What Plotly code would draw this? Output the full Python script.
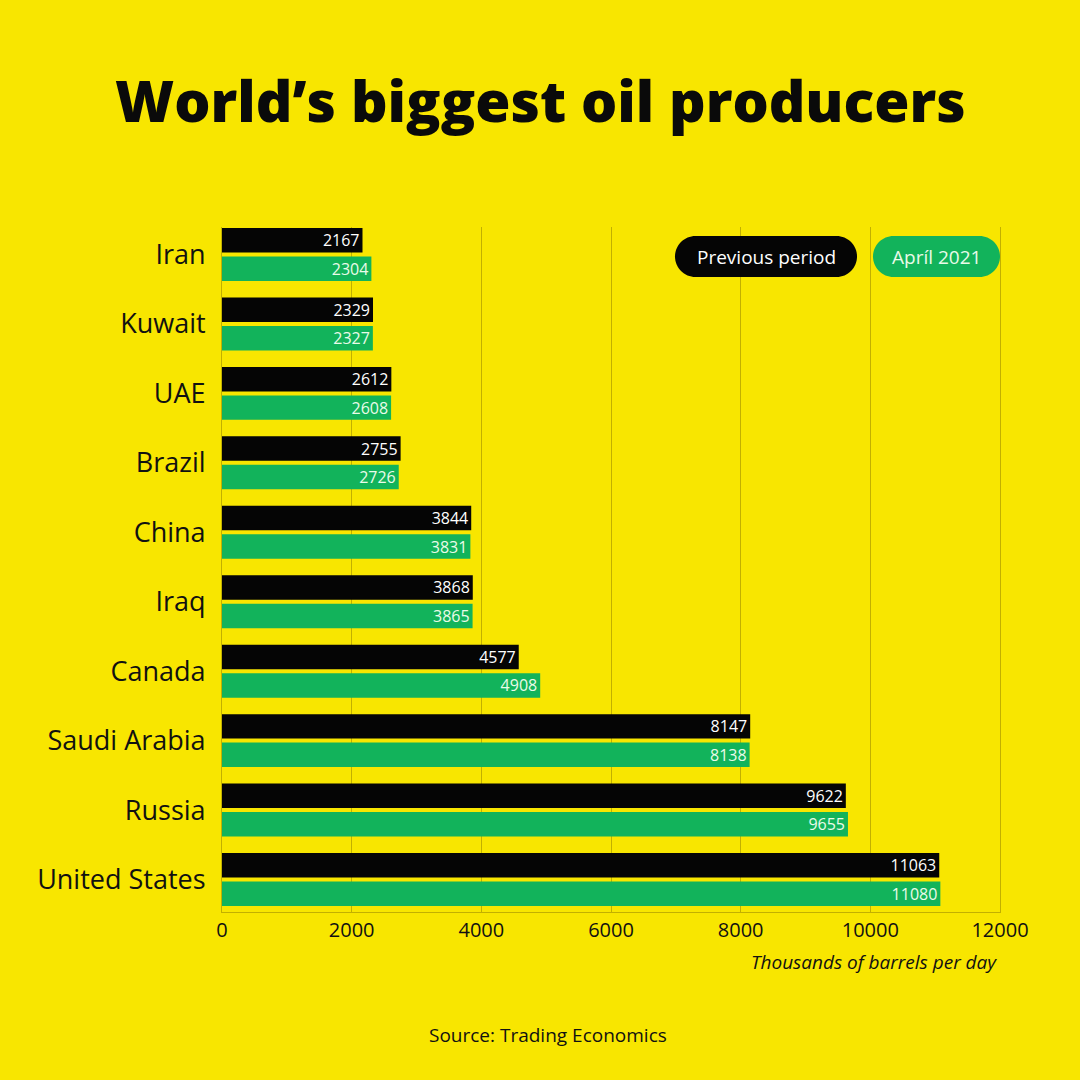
import plotly.graph_objects as go

# --- DATA ---
countries = ["Iran", "Kuwait", "UAE", "Brazil", "China", "Iraq", "Canada",
             "Saudi Arabia", "Russia", "United States"]
previous_period = [2167, 2329, 2612, 2755, 3844, 3868, 4577, 8147, 9622, 11063]
april_2021 = [2304, 2327, 2608, 2726, 3831, 3865, 4908, 8138, 9655, 11080]
x_ticks = [0, 2000, 4000, 6000, 8000, 10000, 12000]

# --- STYLE ---
BG = "#f8e600"
BLACK = "#050505"
GREEN = "#12b35b"
GRID = "#c2b000"
FONT = "Open Sans"

# plot area in pixels (1080 x 1080 canvas)
L, R, T, B = 222, 1000, 227, 912


def px(x):
    return (x - L) / (R - L)


def py(y):
    return (B - y) / (B - T)


def pill(x0, x1, y0, y1):
    # rounded pill outline built with cubic curves, in pixel coords
    r = (y1 - y0) / 2
    k = 0.5523 * r
    ym = (y0 + y1) / 2
    pts = [
        ("M", [(x0 + r, y0)]),
        ("L", [(x1 - r, y0)]),
        ("C", [(x1 - r + k, y0), (x1, ym - k), (x1, ym)]),
        ("C", [(x1, ym + k), (x1 - r + k, y1), (x1 - r, y1)]),
        ("L", [(x0 + r, y1)]),
        ("C", [(x0 + r - k, y1), (x0, ym + k), (x0, ym)]),
        ("C", [(x0, ym - k), (x0 + r - k, y0), (x0 + r, y0)]),
    ]
    out = ""
    for cmd, coords in pts:
        out += cmd + " " + " ".join(f"{px(a):.5f},{py(b):.5f}" for a, b in coords) + " "
    return out + "Z"


fig = go.Figure()

fig.add_trace(go.Bar(
    y=countries, x=previous_period, orientation="h", name="Previous period",
    marker=dict(color=BLACK, line=dict(width=0)),
    text=previous_period, textposition="inside", insidetextanchor="end",
    textangle=0, textfont=dict(family=FONT, size=16, color="white"),
    hoverinfo="x+y",
))
fig.add_trace(go.Bar(
    y=countries, x=april_2021, orientation="h", name="April 2021",
    marker=dict(color=GREEN, line=dict(width=0)),
    text=april_2021, textposition="inside", insidetextanchor="end",
    textangle=0, textfont=dict(family=FONT, size=16, color="#eafbe9"),
    hoverinfo="x+y",
))

shapes = [
    dict(type="path", xref="paper", yref="paper", path=pill(675, 857, 236, 277),
         fillcolor=BLACK, line=dict(width=0), layer="above"),
    dict(type="path", xref="paper", yref="paper", path=pill(873, 1000, 236, 277),
         fillcolor=GREEN, line=dict(width=0), layer="above"),
]

annotations = [
    dict(text="World’s biggest oil producers", xref="paper", yref="paper",
         x=px(540), y=py(100), xanchor="center", yanchor="middle", showarrow=False,
         font=dict(family=FONT, size=57, color="#0a0a0a", weight=800)),
    dict(text="Previous period", xref="paper", yref="paper",
         x=px(766), y=py(257), xanchor="center", yanchor="middle", showarrow=False,
         font=dict(family=FONT, size=19, color="white")),
    dict(text="Apríl 2021", xref="paper", yref="paper",
         x=px(936.5), y=py(257), xanchor="center", yanchor="middle", showarrow=False,
         font=dict(family=FONT, size=19, color="#eafbe9")),
    dict(text="<i>Thousands of barrels per day</i>", xref="paper", yref="paper",
         x=px(999), y=py(962), xanchor="right", yanchor="middle", showarrow=False,
         font=dict(family=FONT, size=19, color="#111111")),
    dict(text="Source: Trading Economics", xref="paper", yref="paper",
         x=px(548), y=py(1035), xanchor="center", yanchor="middle", showarrow=False,
         font=dict(family=FONT, size=19, color="#111111")),
]

fig.update_layout(
    width=1080, height=1080,
    margin=dict(l=L, r=1080 - R, t=T, b=1080 - B, pad=0),
    paper_bgcolor=BG, plot_bgcolor=BG,
    barmode="group", bargap=0.18, bargroupgap=0.14,
    showlegend=False,
    shapes=shapes, annotations=annotations,
    font=dict(family=FONT, color="#111111"),
    uniformtext=dict(minsize=16, mode="show"),
)

fig.update_xaxes(
    range=[0, 12000], tickvals=x_ticks, ticktext=[str(t) for t in x_ticks],
    showgrid=True, gridcolor=GRID, gridwidth=1,
    showline=True, linecolor=GRID, linewidth=1,
    zeroline=False, ticks="",
    tickfont=dict(family=FONT, size=20, color="#111111"),
)
fig.update_yaxes(
    categoryorder="array", categoryarray=countries,
    range=[9 + 32.5 / 69.44, -27.5 / 69.44],
    showgrid=False, showline=True, mirror=True, linecolor=GRID, linewidth=1,
    ticks="", ticklabelstandoff=10,
    tickfont=dict(family=FONT, size=27, color="#111111"),
)

fig.write_html("out.html", config={"displayModeBar": False},
               post_script="document.body.style.margin='0';document.body.style.background='%s';" % BG)
